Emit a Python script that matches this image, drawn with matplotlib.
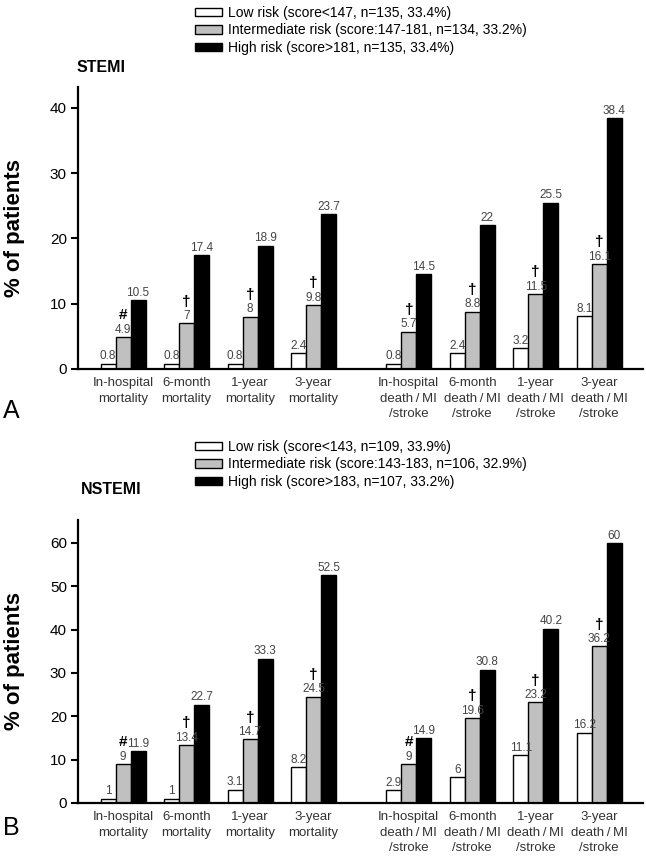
"""
GRACE-score risk groups: event rates in STEMI (A) and NSTEMI (B) patients.
Saves: out.png
"""

import matplotlib.pyplot as plt
import matplotlib.patches as mpatches

plt.rcParams["font.family"] = ["Liberation Sans", "DejaVu Sans"]

# ── Data ──────────────────────────────────────────────────────────────────────
CATEGORIES = [
    "In-hospital\nmortality", "6-month\nmortality", "1-year\nmortality", "3-year\nmortality",
    "In-hospital\ndeath\u2009/\u2009MI\n/stroke", "6-month\ndeath\u2009/\u2009MI\n/stroke",
    "1-year\ndeath\u2009/\u2009MI\n/stroke", "3-year\ndeath\u2009/\u2009MI\n/stroke",
]
GROUP_X = [0, 1, 2, 3, 4.5, 5.5, 6.5, 7.5]

STEMI_LOW = [0.8, 0.8, 0.8, 2.4, 0.8, 2.4, 3.2, 8.1]
STEMI_MID = [4.9, 7, 8, 9.8, 5.7, 8.8, 11.5, 16.1]
STEMI_HIGH = [10.5, 17.4, 18.9, 23.7, 14.5, 22, 25.5, 38.4]
STEMI_MARKS = ["#", "†", "†", "†", "†", "†", "†", "†"]
STEMI_LEGEND = [
    "Low risk (score<147, n=135, 33.4%)",
    "Intermediate risk (score:147-181, n=134, 33.2%)",
    "High risk (score>181, n=135, 33.4%)",
]

NSTEMI_LOW = [1, 1, 3.1, 8.2, 2.9, 6, 11.1, 16.2]
NSTEMI_MID = [9, 13.4, 14.7, 24.5, 9, 19.6, 23.2, 36.2]
NSTEMI_HIGH = [11.9, 22.7, 33.3, 52.5, 14.9, 30.8, 40.2, 60]
NSTEMI_MARKS = ["#", "†", "†", "†", "#", "†", "†", "†"]
NSTEMI_LEGEND = [
    "Low risk (score<143, n=109, 33.9%)",
    "Intermediate risk (score:143-183, n=106, 32.9%)",
    "High risk (score>183, n=107, 33.2%)",
]

# ── Style ─────────────────────────────────────────────────────────────────────
FILLS = ["white", "#c0c0c0", "black"]
BAR_W = 0.236
W, H = 646, 856


def px_rect(left, top, right, bottom):
    """Figure-fraction rect from pixel edges."""
    return [left / W, 1 - bottom / H, (right - left) / W, (bottom - top) / H]


def draw_panel(fig, rect, low, mid, high, marks, legend, title, letter,
               ymax, yticks, title_xy, legend_xy, letter_xy):
    ax = fig.add_axes(rect)
    series = [low, mid, high]
    for k, vals in enumerate(series):
        xs = [x + (k - 1) * BAR_W for x in GROUP_X]
        bars = ax.bar(xs, vals, width=BAR_W, color=FILLS[k],
                      edgecolor="black", linewidth=1.0, zorder=2)
        for b, v in zip(bars, vals):
            ax.annotate(f"{v:g}", (b.get_x() + b.get_width() / 2, v),
                        xytext=(0, 1), textcoords="offset points",
                        ha="center", va="bottom", fontsize=8.5, color="#444")
        if k == 1:
            for b, v, m in zip(bars, vals, marks):
                ax.annotate(m, (b.get_x() + b.get_width() / 2, v),
                            xytext=(0, 10.5), textcoords="offset points",
                            ha="center", va="bottom", fontsize=11,
                            fontweight="bold", color="black")

    ax.set_xlim(-0.71, 8.19)
    ax.set_ylim(0, ymax)
    ax.set_yticks(yticks)
    ax.set_xticks(GROUP_X)
    ax.set_xticklabels(CATEGORIES, fontsize=9.5, color="#333", linespacing=1.38)
    ax.tick_params(axis="x", length=0, pad=6)
    ax.tick_params(axis="y", direction="out", length=5, width=1.5,
                   labelsize=11, pad=3)
    for side in ("top", "right"):
        ax.spines[side].set_visible(False)
    for side in ("left", "bottom"):
        ax.spines[side].set_linewidth(1.6)
    ax.set_ylabel("% of patients", fontsize=16, fontweight="bold")
    ax.yaxis.set_label_coords(-0.094, 0.5)

    handles = [mpatches.Patch(facecolor=c, edgecolor="black", linewidth=1.0, label=l)
               for c, l in zip(FILLS, legend)]
    fig.legend(handles=handles, loc="upper left",
               bbox_to_anchor=(legend_xy[0] / W, 1 - legend_xy[1] / H),
               frameon=False, fontsize=10, handlelength=1.95, handleheight=0.58,
               handletextpad=0.45, labelspacing=0.25, borderpad=0, borderaxespad=0)

    fig.text(title_xy[0] / W, 1 - title_xy[1] / H, title, fontsize=11.5,
             fontweight="bold", ha="left", va="center")
    fig.text(letter_xy[0] / W, 1 - letter_xy[1] / H, letter, fontsize=18,
             ha="left", va="baseline")
    return ax


def main():
    fig = plt.figure(figsize=(W / 100, H / 100), dpi=100)
    fig.patch.set_facecolor("white")

    draw_panel(fig, px_rect(78, 87, 643, 369),
               STEMI_LOW, STEMI_MID, STEMI_HIGH, STEMI_MARKS, STEMI_LEGEND,
               "STEMI", "A", 43.2, [0, 10, 20, 30, 40],
               title_xy=(77, 68), legend_xy=(195, 6), letter_xy=(3, 418))

    draw_panel(fig, px_rect(78, 520, 643, 803),
               NSTEMI_LOW, NSTEMI_MID, NSTEMI_HIGH, NSTEMI_MARKS, NSTEMI_LEGEND,
               "NSTEMI", "B", 65.3, [0, 10, 20, 30, 40, 50, 60],
               title_xy=(81, 490), legend_xy=(195, 440), letter_xy=(3, 835))

    fig.savefig("out.png", dpi=100, facecolor=fig.get_facecolor())


if __name__ == "__main__":
    main()
